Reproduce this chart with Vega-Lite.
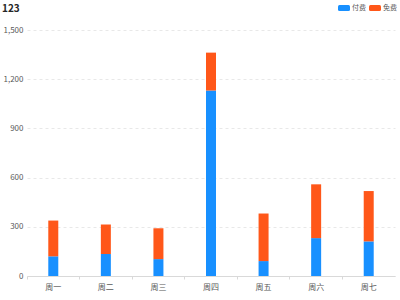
{
  "$schema": "https://vega.github.io/schema/vega-lite/v6.json",
  "autosize": {"type": "none"},
  "width": 368,
  "height": 246,
  "padding": {"left": 27, "top": 30, "right": 5, "bottom": 24},
  "background": "white",
  "title": {
    "text": "123",
    "anchor": "start",
    "frame": "group",
    "orient": "top",
    "font": "Noto Sans CJK SC",
    "fontSize": 10,
    "fontWeight": "bold",
    "color": "#262626",
    "dx": -25,
    "offset": -12
  },
  "config": {
    "view": {"stroke": null},
    "font": "Noto Sans CJK SC"
  },
  "data": {
    "values": [
      {"day": "周一", "type": "付费", "value": 120},
      {"day": "周一", "type": "免费", "value": 218},
      {"day": "周二", "type": "付费", "value": 134},
      {"day": "周二", "type": "免费", "value": 180},
      {"day": "周三", "type": "付费", "value": 103},
      {"day": "周三", "type": "免费", "value": 188},
      {"day": "周四", "type": "付费", "value": 1131},
      {"day": "周四", "type": "免费", "value": 231},
      {"day": "周五", "type": "付费", "value": 91},
      {"day": "周五", "type": "免费", "value": 290},
      {"day": "周六", "type": "付费", "value": 231},
      {"day": "周六", "type": "免费", "value": 328},
      {"day": "周七", "type": "付费", "value": 211},
      {"day": "周七", "type": "免费", "value": 307}
    ]
  },
  "mark": {"type": "bar", "width": 10},
  "encoding": {
    "x": {
      "field": "day",
      "type": "nominal",
      "sort": ["周一", "周二", "周三", "周四", "周五", "周六", "周七"],
      "scale": {"paddingInner": 0, "paddingOuter": 0},
      "axis": {
        "title": null,
        "labelAngle": 0,
        "bandPosition": 0,
        "labelFontSize": 8,
        "labelColor": "#595959",
        "labelPadding": 4,
        "tickSize": 3,
        "tickColor": "#d9d9d9",
        "domainColor": "#d9d9d9",
        "grid": false
      }
    },
    "y": {
      "field": "value",
      "type": "quantitative",
      "aggregate": "sum",
      "stack": "zero",
      "scale": {"domain": [0, 1500], "nice": false},
      "axis": {
        "title": null,
        "values": [0, 300, 600, 900, 1200, 1500],
        "format": ",.0f",
        "domain": false,
        "ticks": false,
        "labelPadding": 4,
        "labelFontSize": 8,
        "labelColor": "#595959",
        "grid": true,
        "gridColor": "#e8e8e8",
        "gridDash": [3, 3],
        "gridWidth": 1
      }
    },
    "color": {
      "field": "type",
      "type": "nominal",
      "sort": ["付费", "免费"],
      "scale": {"domain": ["付费", "免费"], "range": ["#1890ff", "#ff5719"]},
      "legend": {
        "title": null,
        "orient": "none",
        "direction": "horizontal",
        "legendX": 311,
        "legendY": -28,
        "symbolType": "M-0.75,-0.5H0.75Q1,-0.5 1,-0.25V0.25Q1,0.5 0.75,0.5H-0.75Q-1,0.5 -1,0.25V-0.25Q-1,-0.5 -0.75,-0.5Z",
        "symbolSize": 144,
        "symbolStrokeWidth": 0,
        "labelFontSize": 7,
        "labelColor": "#595959",
        "labelOffset": 2,
        "columnPadding": 3
      }
    },
    "order": {"field": "type", "sort": "ascending"}
  }
}
